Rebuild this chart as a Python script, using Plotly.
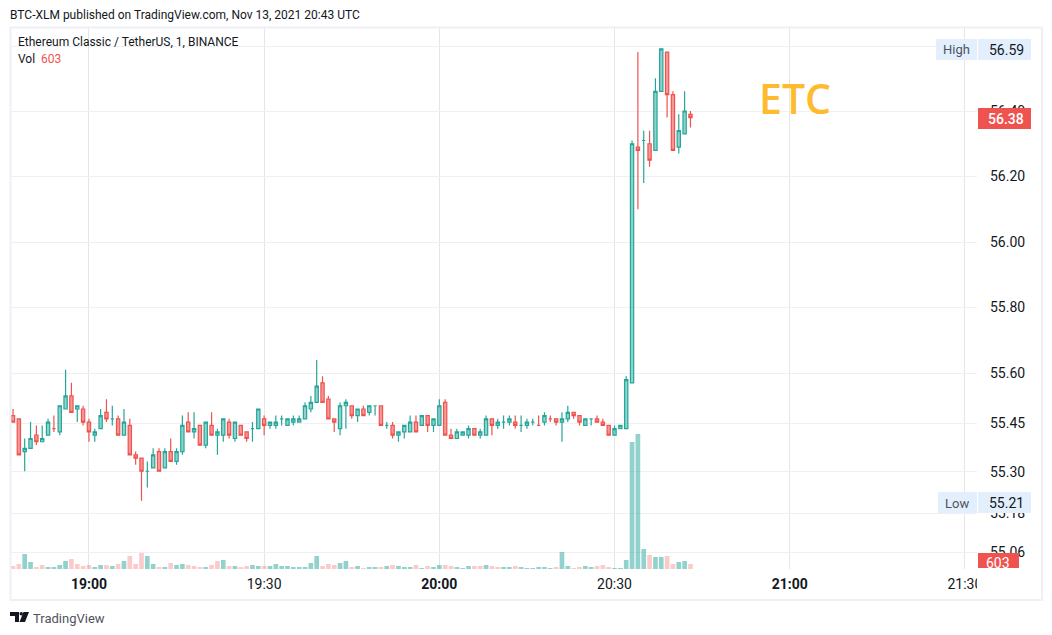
import pandas as pd
import plotly.graph_objects as go

W, H = 1052, 635
L, R, T, B = 10, 977, 27, 569

opens = [55.47,55.46,55.36,55.37,55.41,55.39,55.41,55.43,55.42,55.49,55.53,55.49,55.49,55.45,55.41,55.43,55.48,55.46,55.46,55.41,
 55.44,55.35,55.34,55.30,55.31,55.36,55.31,55.36,55.33,55.36,55.45,55.42,55.44,55.38,55.44,55.41,55.41,55.45,55.40,55.44,
 55.42,55.43,55.43,55.46,55.44,55.44,55.46,55.44,55.45,55.45,55.46,55.49,55.51,55.57,55.52,55.46,55.43,55.50,55.50,55.47,
 55.49,55.48,55.50,55.50,55.44,55.44,55.41,55.42,55.42,55.45,55.44,55.47,55.44,55.44,55.51,55.41,55.40,55.41,55.41,55.43,
 55.41,55.41,55.46,55.44,55.45,55.45,55.45,55.44,55.44,55.45,55.44,55.45,55.46,55.46,55.45,55.46,55.48,55.47,55.44,55.46,
 55.46,55.45,55.44,55.41,55.43,55.43,55.57,56.29,56.31,56.30,56.28,56.46,56.58,56.45,56.29,56.33,56.39]
highs = [55.49,55.46,55.40,55.45,55.44,55.44,55.46,55.47,55.50,55.61,55.57,55.50,55.50,55.46,55.43,55.49,55.52,55.50,55.47,55.49,
 55.46,55.36,55.34,55.33,55.37,55.37,55.37,55.40,55.37,55.47,55.48,55.48,55.44,55.45,55.48,55.43,55.46,55.46,55.45,55.44,
 55.42,55.45,55.49,55.47,55.45,55.47,55.47,55.46,55.47,55.47,55.51,55.53,55.64,55.59,55.53,55.46,55.51,55.52,55.50,55.49,
 55.50,55.50,55.50,55.50,55.45,55.45,55.42,55.44,55.47,55.47,55.47,55.47,55.46,55.52,55.52,55.43,55.43,55.42,55.44,55.43,
 55.43,55.47,55.46,55.46,55.47,55.47,55.47,55.47,55.46,55.46,55.47,55.48,55.47,55.46,55.48,55.50,55.48,55.47,55.46,55.46,
 55.47,55.46,55.44,55.44,55.44,55.59,56.31,56.58,56.34,56.34,56.50,56.59,56.58,56.46,56.39,56.46,56.40]
lows = [55.45,55.35,55.30,55.37,55.38,55.39,55.41,55.42,55.41,55.49,55.48,55.45,55.44,55.39,55.39,55.43,55.45,55.44,55.41,55.41,
 55.35,55.32,55.21,55.25,55.31,55.30,55.31,55.33,55.32,55.35,55.42,55.40,55.38,55.37,55.41,55.35,55.39,55.40,55.39,55.41,
 55.39,55.39,55.43,55.41,55.43,55.43,55.44,55.44,55.44,55.45,55.46,55.48,55.51,55.51,55.46,55.42,55.41,55.43,55.46,55.45,
 55.47,55.47,55.47,55.44,55.43,55.40,55.39,55.40,55.42,55.42,55.44,55.42,55.42,55.44,55.41,55.40,55.40,55.41,55.40,55.41,
 55.40,55.41,55.41,55.43,55.43,55.44,55.43,55.42,55.43,55.44,55.44,55.44,55.45,55.44,55.39,55.45,55.46,55.44,55.44,55.44,
 55.45,55.44,55.41,55.41,55.43,55.43,55.57,56.10,56.18,56.23,56.28,56.46,56.38,56.28,56.27,56.33,56.35]
closes = [55.45,55.35,55.37,55.40,55.39,55.40,55.45,55.43,55.50,55.53,55.48,55.50,55.45,55.42,55.42,55.47,55.46,55.46,55.41,55.45,
 55.35,55.34,55.30,55.30,55.35,55.30,55.36,55.33,55.36,55.44,55.42,55.43,55.38,55.45,55.41,55.42,55.46,55.41,55.45,55.41,
 55.40,55.43,55.49,55.44,55.45,55.45,55.46,55.46,55.46,55.46,55.50,55.51,55.56,55.51,55.46,55.45,55.50,55.51,55.47,55.49,
 55.47,55.50,55.50,55.44,55.44,55.41,55.42,55.44,55.45,55.42,55.47,55.44,55.46,55.50,55.41,55.40,55.42,55.42,55.43,55.41,
 55.42,55.46,55.44,55.45,55.45,55.46,55.44,55.44,55.45,55.45,55.44,55.47,55.46,55.45,55.46,55.48,55.47,55.45,55.46,55.46,
 55.45,55.44,55.41,55.43,55.44,55.58,56.30,56.28,56.31,56.25,56.46,56.59,56.45,56.28,56.34,56.40,56.38]
candle_dirs = ("rrggrggrgg" "rgrrggrgrg" "rrrggrgrgg" "rgrgrggrgr" "rggrgggggg" "gggrrrggrg"
               "rggrgrgggr" "grggrrgggr" "ggrgggrggg" "rgrrggrrgg" "rrrggggrgr" "ggrrggr")
volumes = [360,600,1800,840,240,480,240,240,480,960,1200,600,360,480,240,480,480,360,600,960,
 1560,600,1920,1560,600,240,240,720,480,600,480,360,240,240,480,960,1080,360,360,240,
 360,480,360,360,360,600,360,360,240,240,240,720,1560,360,600,480,720,960,240,360,
 120,240,240,240,360,480,360,240,240,480,120,360,240,480,480,360,240,120,360,360,
 360,480,360,240,240,240,360,240,120,120,240,240,120,240,2040,360,120,240,360,240,
 360,480,240,120,120,1080,15240,16200,2400,1680,1440,1440,1560,600,840,960,603]
volume_dirs = ("rrggrrgggg" "rrrrggrgrg" "rrrggrgrgg" "rrrgrrgrgr" "rggrgggggg" "gggrrrggrg"
               "rggrgrgggr" "grggrrgggr" "rgrrggrggg" "gggrggrrgg" "rrrggggggr" "ggrrggr")
times = pd.date_range("2021-11-13 18:47", periods=len(opens), freq="min")
x_ticks = ["2021-11-13 19:00", "2021-11-13 19:30", "2021-11-13 20:00", "2021-11-13 20:30", "2021-11-13 21:00", "2021-11-13 21:30"]
x_labels = ["<b>19:00</b>", "19:30", "<b>20:00</b>", "20:30", "<b>21:00</b>", "21:30"]
y_ticks = [56.598, 56.40, 56.20, 56.00, 55.80, 55.60, 55.447, 55.298, 55.1725, 55.0534]
y_labels = ["56.60", "56.40", "56.20", "56.00", "55.80", "55.60", "55.45", "55.30", "55.18", "55.06"]

assert len(opens) == len(highs) == len(lows) == len(closes) == len(candle_dirs) == len(volumes) == len(volume_dirs) == 117

GREEN, RED = "#26a69a", "#ef5350"
FONT = "Roboto"
INK = "#131722"

def px(v): return (v - L) / (R - L)
def py(v): return (B - v) / (B - T)

def candle(flag, color, fill):
    idx = [i for i, d in enumerate(candle_dirs) if d == flag]
    side = dict(line=dict(color=color, width=1.2), fillcolor=fill)
    return go.Candlestick(
        x=[times[i] for i in idx], open=[opens[i] for i in idx], high=[highs[i] for i in idx],
        low=[lows[i] for i in idx], close=[closes[i] for i in idx],
        increasing=side, decreasing=side, whiskerwidth=0, yaxis="y2", showlegend=False)

fig = go.Figure()
fig.add_bar(x=times, y=volumes, yaxis="y", showlegend=False,
            marker=dict(color=["rgba(38,166,154,0.5)" if d == "g" else "rgba(239,83,80,0.3)" for d in volume_dirs], line_width=0))
fig.add_trace(candle("g", GREEN, "rgba(38,166,154,0.5)"))
fig.add_trace(candle("r", RED, "rgba(239,83,80,0.6)"))

def box(x0, x1, y0, y1, color):
    return dict(type="rect", xref="paper", yref="paper", x0=px(x0), x1=px(x1), y0=py(y0), y1=py(y1),
                fillcolor=color, line_width=0, layer="above")

def poly(points, color=INK):
    d = "M" + " L".join(f"{px(a):.5f},{py(b):.5f}" for a, b in points) + " Z"
    return dict(type="path", xref="paper", yref="paper", path=d, fillcolor=color, line_width=0, layer="above")

shapes = [
    box(977, 1041, 570, 599, "#ffffff"),
    box(936, 977, 39, 60, "#e3effd"),
    box(978, 1031, 39, 60, "#e3effd"),
    box(938, 977, 492, 513, "#e3effd"),
    box(978, 1031, 492, 513, "#e3effd"),
    box(978, 1031, 108, 129, RED),
    box(978, 1019, 553, 568, RED),
    dict(type="rect", xref="paper", yref="paper", x0=px(10.5), x1=px(1042), y0=py(27.5), y1=py(600),
         line=dict(color="#eef0f6", width=2), fillcolor="rgba(0,0,0,0)", layer="above"),
    poly([(10, 612), (19, 612), (19, 622), (15, 622), (15, 616), (10, 616)]),
    poly([(23.5, 612), (29, 612), (25, 622), (19.5, 622)]),
    dict(type="circle", xref="paper", yref="paper", x0=px(19.5), x1=px(23), y0=py(612), y1=py(615.5),
         fillcolor=INK, line_width=0, layer="above"),
]

def note(x, y, text, size=12, color=INK, anchor="left", font=FONT, weight="normal", **kw):
    return dict(xref="paper", yref="paper", x=px(x), y=py(y), text=text, showarrow=False, xanchor=anchor,
                yanchor="middle", borderpad=0, borderwidth=0,
                font=dict(family=font, size=size, color=color, weight=weight), **kw)

annotations = [
    note(10, 15, "BTC-XLM published on TradingView.com, Nov 13, 2021 20:43 UTC"),
    note(18, 42, "Ethereum Classic / TetherUS, 1, BINANCE"),
    note(18, 59, "Vol"),
    note(41, 59, "603", color=RED),
    note(956, 49, "High", size=13, color="#50535e", anchor="center"),
    note(1006, 50, "56.59", size=14, anchor="center"),
    note(957, 503, "Low", size=13, color="#50535e", anchor="center"),
    note(1006, 503, "55.21", size=14, anchor="center"),
    note(1006, 119, "56.38", size=14, color="#ffffff", anchor="center", weight=500),
    note(998, 563, "603", size=14, color="#ffffff", anchor="center"),
    note(795, 98, "ETC", size=41, color="#fdbb2d", anchor="center", font="Open Sans", weight=600),
    note(33, 618, "TradingView", size=13, color="#50535e"),
]

fig.update_layout(
    width=W, height=H, margin=dict(l=L, r=W - R, t=T, b=H - B, autoexpand=False),
    paper_bgcolor="#ffffff", plot_bgcolor="#ffffff", bargap=0.2, boxgap=0.2, hovermode=False,
    font=dict(family=FONT, size=14, color=INK), shapes=shapes, annotations=annotations, showlegend=False,
    xaxis=dict(type="date", range=["2021-11-13 18:46:29", "2021-11-13 21:32:04"], tickmode="array",
               tickvals=x_ticks, ticktext=x_labels, showgrid=True, gridcolor="#e6e6e9", gridwidth=1,
               zeroline=False, showline=False, ticks="", rangeslider=dict(visible=False),
               tickfont=dict(size=14, color=INK), ticklabelstandoff=5),
    yaxis=dict(range=[0, 65040], visible=False, fixedrange=True),
    yaxis2=dict(overlaying="y", side="right", range=[55.0015, 56.6565], tickmode="array", tickvals=y_ticks,
                ticktext=y_labels, showgrid=True, gridcolor="#f0f0f2", gridwidth=1, zeroline=False, showline=False,
                ticks="", tickfont=dict(size=14, color=INK), ticklabelstandoff=12, fixedrange=True),
)
fig.write_html("out.html", post_script="document.body.style.margin='0';", config=dict(displayModeBar=False))
